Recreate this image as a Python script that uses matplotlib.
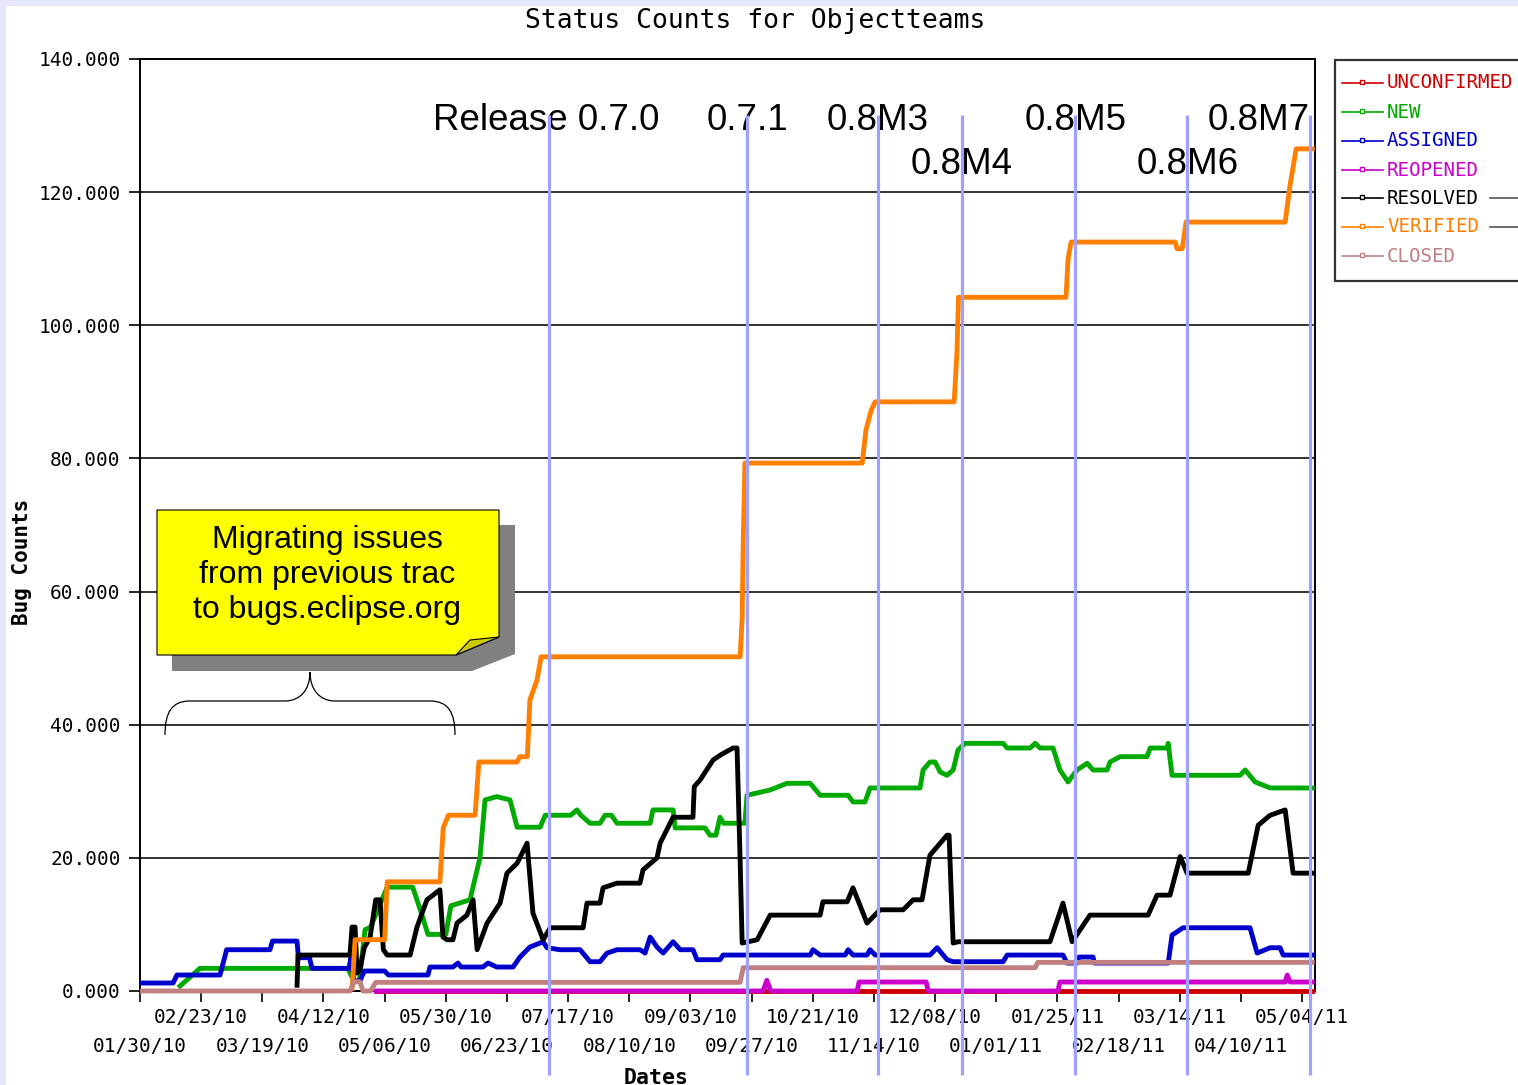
import matplotlib
matplotlib.use("Agg")
import matplotlib.pyplot as plt
from matplotlib.patches import Rectangle, Polygon, PathPatch
from matplotlib.path import Path
from matplotlib.lines import Line2D
from matplotlib.ticker import FixedLocator, StrMethodFormatter

# x values are chart positions in days since 01/30/10 (one labelled tick every 24)
date_labels = ['01/30/10', '02/23/10', '03/19/10', '04/12/10', '05/06/10',
               '05/30/10', '06/23/10', '07/17/10', '08/10/10', '09/03/10',
               '09/27/10', '10/21/10', '11/14/10', '12/08/10', '01/01/11',
               '01/25/11', '02/18/11', '03/14/11', '04/10/11', '05/04/11']
tick_step = 24

unconfirmed = [(91.8, 0), (461, 0)]

new = [(15, 0.5), (23.5, 3.4), (81.6, 3.4), (84, 1.4), (86, 1.4), (88.3, 9.2),
       (90.5, 9.6), (97, 15.6), (107, 15.6), (110, 12.2), (113, 8.5), (120, 8.5),
       (122, 12.8), (129.5, 13.7), (133.4, 20), (135.4, 28.7), (140, 29.2),
       (145.2, 28.7), (148, 24.6), (157, 24.6), (159, 26.4), (169, 26.4),
       (171.5, 27.2), (173, 26.4), (176.6, 25.2), (180.5, 25.2), (182.5, 26.4),
       (185, 26.4), (187.2, 25.2), (200.2, 25.2), (201.3, 27.2), (209.2, 27.2),
       (210, 24.5), (221.7, 24.5), (223.7, 23.4), (226, 23.4), (227.6, 26.1),
       (229, 25.2), (237.4, 25.2), (238.2, 29.4), (247.3, 30.2), (253.9, 31.2),
       (263, 31.2), (266.9, 29.4), (277.9, 29.4), (279.8, 28.4), (284.5, 28.4),
       (286.5, 30.5), (306.1, 30.5), (307.3, 33.2), (310, 34.4), (312, 34.4),
       (314, 32.9), (316.7, 32.4), (319.1, 33.2), (321, 36.2), (323.8, 37.2),
       (338.7, 37.2), (340.3, 36.5), (349.3, 36.5), (351.3, 37.2), (353.2, 36.5),
       (358.3, 36.5), (361, 33.2), (364.2, 31.4), (367.7, 33.2), (371.7, 34.2),
       (374, 33.2), (379.5, 33.2), (380.7, 34.4), (384.6, 35.2), (395.2, 35.2),
       (396.4, 36.5), (403.1, 36.5), (403.5, 37.2), (405, 32.4), (431.7, 32.4),
       (433.7, 33.2), (437.6, 31.4), (443.5, 30.5), (461, 30.5)]

assigned = [(0, 1.2), (13, 1.2), (14.5, 2.4), (31.4, 2.4), (34, 6.2), (51, 6.2),
            (52, 7.5), (61.6, 7.5), (62.2, 5.0), (66.5, 5.0), (67.5, 3.4), (82, 3.4),
            (82.8, 5.0), (84, 1.5), (86.3, 1.5), (88, 3.0), (96, 3.0), (97.5, 2.4),
            (113, 2.4), (113.8, 3.6), (122.8, 3.6), (124.8, 4.2), (126, 3.6),
            (134.6, 3.6), (136.6, 4.2), (140, 3.6), (146.4, 3.6), (149.1, 5.1),
            (153, 6.6), (158.2, 7.4), (159.7, 6.5), (164.8, 6.2), (172.7, 6.2),
            (176.6, 4.4), (180.5, 4.4), (183.3, 5.7), (187.2, 6.2), (196.2, 6.2),
            (198.2, 5.7), (200.2, 8.1), (202.9, 6.6), (205.3, 5.7), (209.2, 7.4),
            (212, 6.2), (217, 6.2), (218.6, 4.7), (227.6, 4.7), (228.8, 5.4),
            (263, 5.4), (264.1, 6.2), (266.9, 5.4), (276.7, 5.4), (277.9, 6.2),
            (279.8, 5.4), (285.3, 5.4), (286.5, 6.2), (288.5, 5.4), (310, 5.4),
            (312.8, 6.5), (316.7, 4.7), (319.1, 4.4), (338.7, 4.4), (340.3, 5.4),
            (362.2, 5.4), (363.8, 4.2), (367.7, 4.2), (368.5, 5.1), (374, 5.1),
            (374.5, 4.2), (403.5, 4.2), (405, 8.4), (409.3, 9.5), (435.6, 9.5),
            (438.4, 5.7), (443.5, 6.5), (447.4, 6.5), (448.6, 5.4), (461, 5.4)]

reopened = [(91.8, 0), (244.5, 0), (246, 1.6), (247.5, 0), (281.4, 0), (282.2, 1.35),
            (308.5, 1.35), (309.3, 0), (360.2, 0), (361, 1.35), (449.4, 1.35),
            (450.2, 2.4), (451.3, 1.35), (461, 1.35)]

resolved = [(61.6, 0.5), (62, 5.4), (82.4, 5.4), (83.2, 9.6), (84.4, 9.6), (85.2, 2.7),
            (86.3, 3.2), (88, 6.5), (90.3, 8.1), (92.5, 13.7), (94.2, 13.7), (95.5, 6.2),
            (97, 5.4), (106, 5.4), (108.7, 9.6), (110.5, 11.5), (112.6, 13.7),
            (117.7, 15.2), (118.9, 8.1), (120.5, 7.7), (122.8, 7.7), (124.4, 10.2),
            (128.3, 11.4), (130.7, 13.7), (132.3, 6.2), (136.2, 10.2), (141.3, 13.2),
            (144, 17.7), (148, 19.2), (151.9, 22.2), (154.2, 11.7), (158.2, 7.7),
            (161, 9.5), (173.9, 9.5), (175.4, 13.2), (180.5, 13.2), (181.7, 15.5),
            (187.2, 16.2), (196.2, 16.2), (197.4, 18.2), (202.9, 20), (204.1, 22.2),
            (209.2, 26.1), (217, 26.1), (217.5, 30.7), (219.8, 31.7), (224.9, 34.7),
            (228, 35.5), (232.7, 36.5), (234.3, 36.5), (235.5, 19.7), (236.3, 7.2),
            (242.2, 7.7), (247.3, 11.4), (266.9, 11.4), (268, 13.4), (277.5, 13.4),
            (279.8, 15.5), (285.3, 10.2), (290.4, 12.2), (299.5, 12.2), (303.4, 13.7),
            (306.9, 13.7), (310, 20.4), (316.7, 23.4), (317.5, 23.4), (319.1, 7.2),
            (321, 7.4), (357.1, 7.4), (362.2, 13.2), (365.8, 7.4), (372.8, 11.4),
            (395.6, 11.4), (399.1, 14.4), (404.2, 14.4), (408.2, 20.2), (410.9, 17.7),
            (434.9, 17.7), (438.8, 24.9), (443.5, 26.4), (449.4, 27.2), (452.5, 17.7),
            (461, 17.7)]

verified = [(83.2, 0), (84.4, 7.7), (96, 7.7), (97, 16.4), (117.7, 16.4), (119, 24.5),
            (121, 26.4), (131.5, 26.4), (133, 34.4), (148, 34.4), (149, 35.2),
            (152, 35.2), (153, 43.7), (155.8, 46.7), (157.4, 50.2), (235.5, 50.2),
            (236.3, 56), (236.7, 67), (237.4, 79.3), (283.4, 79.3), (284.9, 84.3),
            (287, 87.3), (288.5, 88.5), (319.5, 88.5), (320.6, 96), (321.2, 104.2),
            (363.4, 104.2), (364.2, 110), (365.4, 112.5), (406.2, 112.5),
            (407, 111.5), (409, 111.5), (410.5, 115.5), (449.4, 115.5), (451.3, 121),
            (453.7, 126.5), (461, 126.5)]

closed = [(0, 0), (82.4, 0), (84, 1.4), (86.3, 1.4), (87.5, 0), (90.5, 0), (92.5, 1.3),
          (235.5, 1.3), (236.7, 3.5), (351.3, 3.5), (352.3, 4.3), (461, 4.3)]

series_names = ['UNCONFIRMED', 'NEW', 'ASSIGNED', 'REOPENED', 'RESOLVED', 'VERIFIED', 'CLOSED']
series_data = [unconfirmed, new, assigned, reopened, resolved, verified, closed]
series_colors = ['#cc0000', '#00aa00', '#0000cc', '#cc00cc', '#000000', '#ff8000', '#c08080']

release_names = ['Release 0.7.0', '0.7.1', '0.8M3', '0.8M4', '0.8M5', '0.8M6', '0.8M7']
release_days = [160.5, 238.2, 289.6, 322.6, 367.0, 411.0, 459.2]

W, H = 1518, 1085


def fx(px):
    return px / W


def fy(py):
    return 1 - py / H


fig = plt.figure(figsize=(W / 100, H / 100), dpi=100)
fig.patch.set_facecolor('#e6e6fa')
fig.add_artist(Rectangle((fx(6), 0), 1, fy(6), transform=fig.transFigure,
                         facecolor='white', edgecolor='none', zorder=-5))

ax = fig.add_axes([fx(140), fy(991), 1175 / W, 932 / H])
mono = 'DejaVu Sans Mono'

for name, pts, col in zip(series_names, series_data, series_colors):
    xs, ys = zip(*pts)
    ax.plot(xs, ys, color=col, lw=3.5, solid_capstyle='butt', clip_on=False, zorder=3)

ax.set_xlim(0, 461.1)
ax.set_ylim(0, 140)
ax.set_yticks(range(0, 141, 20))
ax.yaxis.set_major_formatter(StrMethodFormatter('{x:.3f}'))
ax.yaxis.grid(True, color='#222222', lw=1.3)
ax.set_axisbelow(True)

# dates alternate between two rows
tick_pos = [i * tick_step for i in range(len(date_labels))]
ax.xaxis.set_major_locator(FixedLocator(tick_pos[1::2]))
ax.set_xticklabels(date_labels[1::2])
ax.xaxis.set_minor_locator(FixedLocator(tick_pos[0::2]))
ax.set_xticklabels(date_labels[0::2], minor=True)
ax.tick_params(axis='x', which='both', length=8, width=1.2, direction='out')
ax.tick_params(axis='x', which='major', pad=4)
ax.tick_params(axis='x', which='minor', pad=25)
ax.tick_params(axis='y', length=8, width=1.2, pad=6)
for lab in ax.get_xticklabels(which='both') + ax.get_yticklabels():
    lab.set_fontfamily(mono)
    lab.set_fontsize(14)
for sp in ax.spines.values():
    sp.set_linewidth(1.4)

# release markers
ax.vlines(release_days, -12.6, 131.6, colors='#a0a0ff', lw=2.3, clip_on=False, zorder=6)
for i, (nm, d) in enumerate(zip(release_names, release_days)):
    row_y = 130.8 if i in (0, 1, 2, 4, 6) else 124.2
    ha = 'right' if i == 6 else 'center'
    ax.text(d if i else d - 1.2, row_y, nm, ha=ha, va='center', fontsize=26.5,
            family='Liberation Sans', zorder=5)

fig.text(fx(755), fy(21), 'Status Counts for Objectteams', ha='center', va='center',
         family=mono, fontsize=19)
fig.text(fx(22), fy(562), 'Bug Counts', rotation=90, ha='center', va='center',
         family=mono, fontweight='bold', fontsize=15)
fig.text(fx(656), fy(1078), 'Dates', ha='center', va='center',
         family=mono, fontweight='bold', fontsize=15.5)

# legend drawn by hand, it runs off the right edge
leg_rows = [83, 112, 141, 170, 198, 227, 256]
fig.add_artist(Rectangle((fx(1335), fy(281)), 200 / W, 221 / H, transform=fig.transFigure,
                         facecolor='white', edgecolor='#333333', lw=1.6, zorder=4))
for name, col, r in zip(series_names, series_colors, leg_rows):
    fig.add_artist(Line2D([fx(1342), fx(1383)], [fy(r), fy(r)], color=col, lw=1.2,
                          transform=fig.transFigure, zorder=5))
    fig.add_artist(Line2D([fx(1362)], [fy(r - 1)], color=col, marker='s', ms=3.5,
                          mfc='white', mew=1.0, transform=fig.transFigure, zorder=5))
    fig.text(fx(1387), fy(r), name, color=col, family=mono, fontsize=13.8,
             va='center', ha='left', zorder=5)
    if name in ('RESOLVED', 'VERIFIED'):
        fig.add_artist(Line2D([fx(1490), fx(1518)], [fy(r), fy(r)], color='#555555', lw=1.2,
                              transform=fig.transFigure, zorder=5))


def to_fig(pts):
    return [(fx(x), fy(y)) for x, y in pts]


# sticky note
shadow = [(172, 525), (515, 525), (515, 654), (472, 671), (172, 671)]
fig.add_artist(Polygon(to_fig(shadow), closed=True, transform=fig.transFigure,
                       facecolor='#808080', edgecolor='none', zorder=6))
note = [(157, 510), (499, 510), (499, 637), (456, 655), (157, 655)]
fig.add_artist(Polygon(to_fig(note), closed=True, transform=fig.transFigure,
                       facecolor='#ffff00', edgecolor='black', lw=0.8, zorder=7))
fold = [(456, 655), (470, 640), (499, 637)]
fig.add_artist(Polygon(to_fig(fold), closed=True, transform=fig.transFigure,
                       facecolor='#cccc00', edgecolor='black', lw=0.8, zorder=8))
fig.text(fx(327), fy(575), 'Migrating issues\nfrom previous trac\nto bugs.eclipse.org',
         ha='center', va='center', multialignment='center', linespacing=1.2,
         family='Liberation Sans', fontsize=23, zorder=9)

# curly brace under the note
brace = [(165, 735), (165, 712), (172, 701), (190, 701), (285, 701),
         (300, 701), (310, 690), (310, 672), (310, 690), (320, 701), (335, 701),
         (430, 701), (448, 701), (455, 712), (455, 735)]
codes = [Path.MOVETO, Path.CURVE4, Path.CURVE4, Path.CURVE4, Path.LINETO,
         Path.CURVE4, Path.CURVE4, Path.CURVE4, Path.CURVE4, Path.CURVE4, Path.CURVE4,
         Path.LINETO, Path.CURVE4, Path.CURVE4, Path.CURVE4]
fig.add_artist(PathPatch(Path(to_fig(brace), codes), transform=fig.transFigure,
                         facecolor='none', edgecolor='black', lw=0.9, zorder=6))

plt.savefig('out.png', dpi=100)
